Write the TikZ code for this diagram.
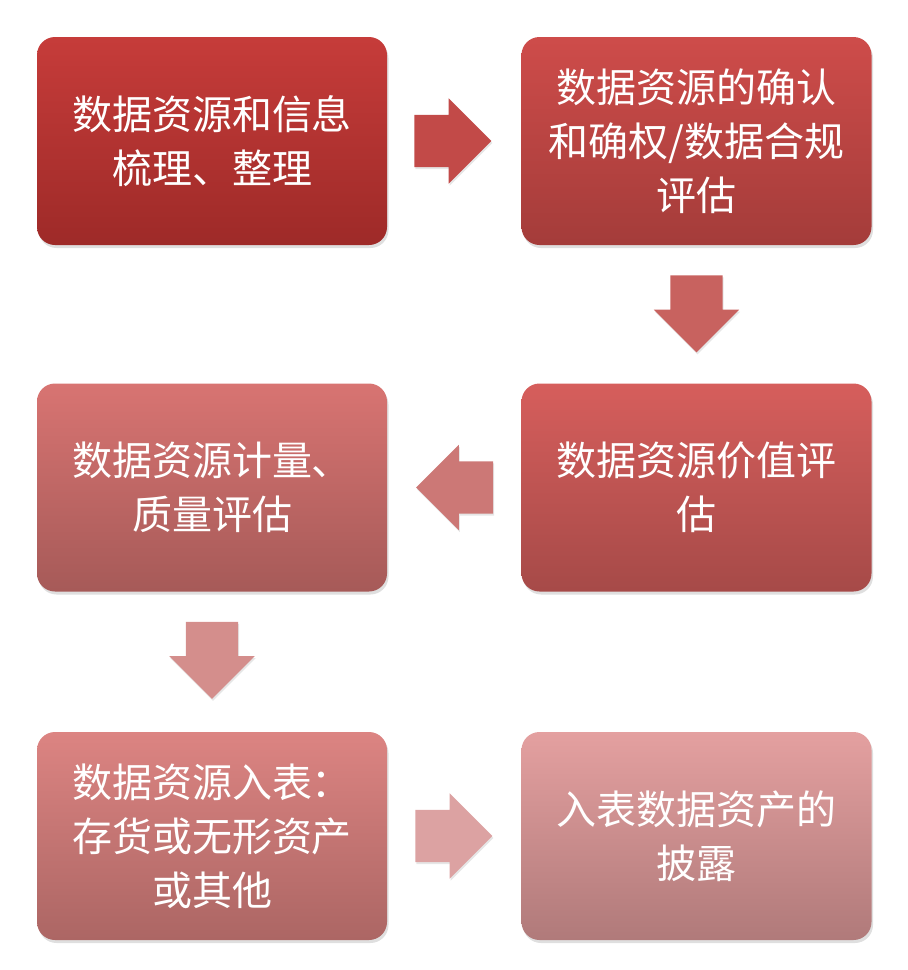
\documentclass[tikz,border=0pt]{standalone}
\usepackage{fontspec}
\newfontfamily\cjk{Noto Sans CJK SC}
\usetikzlibrary{shapes.arrows,shadows}

\definecolor{boxatop}{HTML}{C63C3A}
\definecolor{boxabot}{HTML}{9E2A28}
\definecolor{boxbtop}{HTML}{CE4C4A}
\definecolor{boxbbot}{HTML}{A43C3A}
\definecolor{boxctop}{HTML}{D65E5C}
\definecolor{boxcbot}{HTML}{A64A48}
\definecolor{boxdtop}{HTML}{D87472}
\definecolor{boxdbot}{HTML}{A65A58}
\definecolor{boxetop}{HTML}{DC8482}
\definecolor{boxebot}{HTML}{AC6664}
\definecolor{boxftop}{HTML}{E4A0A0}
\definecolor{boxfbot}{HTML}{B07A7A}
\definecolor{arrowa}{HTML}{C24A48}
\definecolor{arrowb}{HTML}{C8625F}
\definecolor{arrowc}{HTML}{CC7876}
\definecolor{arrowd}{HTML}{D48E8C}
\definecolor{arrowe}{HTML}{DCA2A2}

\tikzset{
  stepbox/.style 2 args={rounded corners=18pt, minimum width=350pt,
    minimum height=208pt, top color=#1, bottom color=#2, text=white,
    align=center, font=\cjk\fontsize{40pt}{54pt}\selectfont,
    drop shadow={opacity=0.25, shadow xshift=1.5pt, shadow yshift=-3pt}},
  flowarrow/.style={single arrow, fill=#1, minimum height=77pt, anchor=tail,
    single arrow head extend=16.5pt, inner xsep=0pt, inner ysep=26pt,
    drop shadow={opacity=0.2, shadow xshift=1pt, shadow yshift=-2pt}},
}

\begin{document}
\begin{tikzpicture}[x=1pt,y=-1pt]
  \useasboundingbox (0,0) rectangle (908,970);

  \node[stepbox={boxatop}{boxabot}] (sort) at (212,141)
    {数据资源和信息\\梳理、整理};
  \node[stepbox={boxbtop}{boxbbot}] (confirm) at (696.5,141)
    {数据资源的确认\\和确权/数据合规\\评估};
  \node[stepbox={boxctop}{boxcbot}] (value) at (696.5,487.5)
    {数据资源价值评\\估};
  \node[stepbox={boxdtop}{boxdbot}] (measure) at (212,487.5)
    {数据资源计量、\\质量评估};
  \node[stepbox={boxetop}{boxebot}] (entry) at (212,836)
    {数据资源入表：\\存货或无形资产\\或其他};
  \node[stepbox={boxftop}{boxfbot}] (disclose) at (696.5,836)
    {入表数据资产的\\披露};

  % block arrows between the steps
  \node[flowarrow=arrowa] (sortconfirm) at ([xshift=27pt]sort.east) {};
  \node[flowarrow=arrowb, rotate=-90] (confirmvalue) at ([yshift=-30pt]confirm.south) {};
  \node[flowarrow=arrowc, rotate=180] (valuemeasure) at ([xshift=-28pt]value.west) {};
  \node[flowarrow=arrowd, rotate=-90] (measureentry) at ([yshift=-30pt]measure.south) {};
  \node[flowarrow=arrowe] (entrydisclose) at ([xshift=28pt]entry.east) {};
\end{tikzpicture}
\end{document}
